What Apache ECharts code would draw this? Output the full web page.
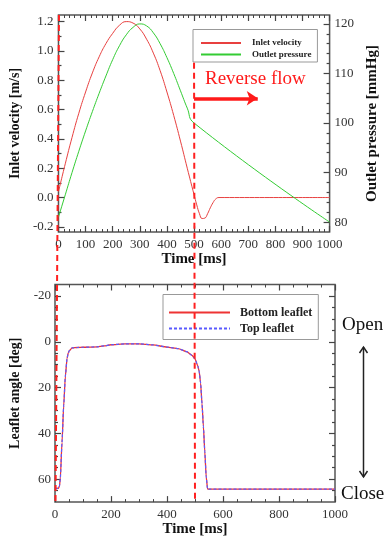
<!DOCTYPE html>
<html>
<head>
<meta charset="utf-8">
<script src="https://cdn.jsdelivr.net/npm/echarts@6/dist/echarts.min.js"></script>
<style>
  html, body { margin: 0; padding: 0; background: #fff; }
  #chart { width: 388px; height: 538px; }
</style>
</head>
<body>
<div id="chart"></div>
<script>
// inlet velocity [m/s] over time [ms]
const velTime = [0, 25, 50, 75, 100, 125, 150, 175, 200, 225, 250, 275, 300, 325, 350, 375, 400, 425, 450, 475, 500, 510, 520, 530, 540, 550, 560, 570, 580, 592, 1000];
const velValues = [0.04, 0.23, 0.41, 0.575, 0.72, 0.85, 0.96, 1.05, 1.12, 1.175, 1.2, 1.19, 1.15, 1.08, 0.985, 0.865, 0.72, 0.56, 0.385, 0.2, 0.02, -0.05, -0.11, -0.143, -0.14, -0.11, -0.07, -0.035, -0.01, 0, 0];

// outlet pressure [mmHg]
const presTime = [0, 25, 50, 75, 100, 125, 150, 175, 200, 225, 250, 275, 300, 325, 350, 375, 400, 425, 450, 475, 500, 1000];
const presValues = [81, 85.5, 90, 94.3, 98.4, 102.3, 106, 109.5, 112.8, 115.6, 117.8, 119.3, 120, 119.6, 118.2, 116, 113.2, 110, 106.5, 103, 100, 80];

// leaflet angle [deg]
const angleTime = [0, 12, 16, 19, 25, 31, 37, 43, 47, 51, 61, 80, 100, 150, 175, 200, 250, 300, 350, 400, 440, 470, 490, 500, 510, 515, 520, 525, 530, 535, 540, 545, 1000];
const bottomAngle = [64, 64, 63, 59.6, 44, 28, 15, 7.4, 5, 3.9, 2.7, 2.5, 2.4, 2.2, 1.8, 1.3, 0.9, 0.9, 1.4, 2.3, 3.0, 4.3, 6.0, 7.5, 10.5, 13, 18, 27, 37, 48, 59, 64.3, 64.3];
const topAngle = [64, 64, 63, 59.6, 44, 28, 15, 7.4, 5, 3.9, 2.7, 2.5, 2.4, 2.2, 1.8, 1.3, 0.9, 0.9, 1.4, 2.3, 3.0, 4.3, 6.0, 7.5, 10.5, 13, 18, 27, 37, 48, 59, 64.3, 64.3];

// tick values
const velTicks = [-0.2, 0, 0.2, 0.4, 0.6, 0.8, 1.0, 1.2];
const velMinor = [-0.1, 0.1, 0.3, 0.5, 0.7, 0.9, 1.1];
const presTicks = [80, 90, 100, 110, 120];
const presMinor = [82, 84, 86, 88, 92, 94, 96, 98, 102, 104, 106, 108, 112, 114, 116, 118];
const angleTicks = [-20, 0, 20, 40, 60];
const angleMinor = [-15, -10, -5, 5, 10, 15, 25, 30, 35, 45, 50, 55, 65];

const FONT = 'Liberation Serif';
const TICK = '#444';

function zip(xs, ys) {
  return xs.map((x, i) => [x, ys[i]]);
}

// y axis that only draws custom ticks (and labels if asked)
function yTicks(gridIndex, position, min, max, values, len, labelOpt, extra) {
  return Object.assign({
    type: 'value',
    gridIndex,
    position,
    min,
    max,
    axisLine: { show: false, onZero: false },
    splitLine: { show: false },
    axisTick: { show: true, inside: true, length: len, customValues: values, lineStyle: { color: TICK, width: 1.2 } },
    axisLabel: labelOpt
      ? Object.assign({ show: true, customValues: values, fontFamily: FONT, fontSize: 13, color: '#333', margin: 5 }, labelOpt)
      : { show: false }
  }, extra || {});
}

function xTicks(gridIndex, position, interval, split, showLabel, extra) {
  return Object.assign({
    type: 'value',
    gridIndex,
    position,
    min: 0,
    max: 1000,
    interval,
    axisLine: { show: false, onZero: false },
    splitLine: { show: false },
    axisTick: { show: true, inside: true, length: 6, lineStyle: { color: TICK, width: 1.2 } },
    minorTick: { show: true, splitNumber: split, length: 3, lineStyle: { color: TICK, width: 1 } },
    axisLabel: { show: showLabel, fontFamily: FONT, fontSize: 13, color: '#333', margin: 6, formatter: v => String(v) }
  }, extra || {});
}

const nameStyle = { fontFamily: FONT, fontSize: 14, fontWeight: 'bold', color: '#111' };

const chart = echarts.init(document.getElementById('chart'));

chart.setOption({
  animation: false,
  backgroundColor: '#fff',
  grid: [
    { left: 55, top: 15, width: 280, height: 217, show: true, borderColor: '#555', borderWidth: 1.5 },
    { left: 55, top: 284.5, width: 280, height: 222, show: true, borderColor: '#555', borderWidth: 1.5 }
  ],
  xAxis: [
    xTicks(0, 'bottom', 100, 5, true, {
      name: 'Time [ms]', nameLocation: 'middle', nameGap: 20,
      nameTextStyle: Object.assign({}, nameStyle, { fontSize: 15 })
    }),
    xTicks(0, 'top', 100, 5, false),
    xTicks(1, 'bottom', 200, 4, true, {
      name: 'Time [ms]', nameLocation: 'middle', nameGap: 18,
      nameTextStyle: Object.assign({}, nameStyle, { fontSize: 15 })
    }),
    xTicks(1, 'top', 200, 4, false)
  ],
  yAxis: [
    yTicks(0, 'left', -0.235, 1.245, velTicks, 6, { formatter: v => v.toFixed(1) }, {
      name: 'Inlet velocity [m/s]', nameLocation: 'middle', nameGap: 28, nameRotate: 90,
      nameTextStyle: nameStyle
    }),
    yTicks(0, 'left', -0.235, 1.245, velMinor, 3),
    yTicks(0, 'right', 78, 121.8, presTicks, 6, {}, {
      name: 'Outlet pressure [mmHg]', nameLocation: 'middle', nameGap: 31, nameRotate: 90,
      nameTextStyle: Object.assign({}, nameStyle, { fontSize: 15 })
    }),
    yTicks(0, 'right', 78, 121.8, presMinor, 3),
    yTicks(1, 'left', -25, 70, angleTicks, 6, { margin: 4 }, {
      inverse: true,
      name: 'Leaflet angle [deg]', nameLocation: 'middle', nameGap: 27, nameRotate: 90,
      nameTextStyle: nameStyle
    }),
    yTicks(1, 'left', -25, 70, angleMinor, 3, null, { inverse: true }),
    yTicks(1, 'right', -25, 70, angleTicks, 6, null, { inverse: true }),
    yTicks(1, 'right', -25, 70, angleMinor, 3, null, { inverse: true })
  ],
  legend: [
    {
      data: ['Inlet velocity', 'Outlet pressure'],
      orient: 'vertical',
      left: 193,
      top: 29.5,
      padding: [9, 6, 3, 7],
      itemWidth: 40,
      itemHeight: 10,
      itemGap: 2.5,
      borderColor: '#999',
      borderWidth: 1,
      backgroundColor: '#fff',
      itemStyle: { opacity: 0 },
      textStyle: { fontFamily: FONT, fontWeight: 'bold', fontSize: 9, color: '#222', padding: [0, 0, 0, 6] }
    },
    {
      data: ['Bottom leaflet', 'Top leaflet'],
      orient: 'vertical',
      left: 163,
      top: 294.5,
      padding: [12, 6, 5, 5],
      itemWidth: 61,
      itemHeight: 12,
      itemGap: 4,
      borderColor: '#999',
      borderWidth: 1,
      backgroundColor: '#fff',
      itemStyle: { opacity: 0 },
      textStyle: { fontFamily: FONT, fontWeight: 'bold', fontSize: 12, color: '#222', padding: [0, 0, 0, 5] }
    }
  ],
  series: [
    {
      name: 'Inlet velocity',
      type: 'line',
      xAxisIndex: 0,
      yAxisIndex: 0,
      data: zip(velTime, velValues),
      symbol: 'none',
      smooth: 0.5,
      color: '#e8403f',
      lineStyle: { color: '#e8403f', width: 1 },
      markLine: {
        silent: true,
        symbol: ['none', 'arrow'],
        symbolSize: [11, 11],
        label: { show: false },
        lineStyle: { color: '#ff1a1a', width: 3.5, type: 'solid' },
        data: [[{ coord: [500, 0.677] }, { coord: [735, 0.677] }]]
      }
    },
    {
      name: 'Outlet pressure',
      type: 'line',
      xAxisIndex: 0,
      yAxisIndex: 2,
      data: zip(presTime, presValues),
      symbol: 'none',
      smooth: 0.5,
      color: '#33cc33',
      lineStyle: { color: '#33cc33', width: 1 }
    },
    {
      name: 'Bottom leaflet',
      type: 'line',
      xAxisIndex: 2,
      yAxisIndex: 4,
      data: zip(angleTime, bottomAngle),
      symbol: 'none',
      smooth: 0.2,
      smoothMonotone: 'x',
      color: '#ee3333',
      lineStyle: { color: '#ee3333', width: 1.3 }
    },
    {
      name: 'Top leaflet',
      type: 'line',
      xAxisIndex: 2,
      yAxisIndex: 4,
      data: zip(angleTime, topAngle),
      symbol: 'none',
      smooth: 0.2,
      smoothMonotone: 'x',
      color: '#5a5aff',
      z: 3,
      lineStyle: { color: '#5a5aff', width: 1.2, type: [3, 2] }
    }
  ]
});

// dashed marker lines at t = 0 and t = 500, spanning both panels
const a0 = chart.convertToPixel({ seriesIndex: 0 }, [0, 1.245]);
const b0 = chart.convertToPixel({ seriesIndex: 2 }, [0, 70]);
const a5 = chart.convertToPixel({ seriesIndex: 0 }, [500, 0.92]);
const b5 = chart.convertToPixel({ seriesIndex: 2 }, [500, 70]);
const dash = { stroke: '#ff2020', lineWidth: 2, lineDash: [6, 4] };

chart.setOption({
  graphic: [
    { type: 'line', z: 100, shape: { x1: a0[0] + 0.5, y1: a0[1], x2: b0[0] + 0.5, y2: b0[1] }, style: dash },
    { type: 'line', z: 100, shape: { x1: a5[0], y1: a5[1], x2: b5[0], y2: b5[1] }, style: dash },
    {
      type: 'text', left: 205, top: 70, z: 100,
      style: { text: 'Reverse flow', fill: '#ff1a1a', font: '19px "Liberation Serif"' }
    },
    {
      type: 'text', left: 342, top: 316, z: 100,
      style: { text: 'Open', fill: '#111', font: '19px "Liberation Serif"' }
    },
    {
      type: 'text', left: 341, top: 485, z: 100,
      style: { text: 'Close', fill: '#111', font: '19px "Liberation Serif"' }
    },
    { type: 'line', z: 100, shape: { x1: 363.5, y1: 347, x2: 363.5, y2: 477 }, style: { stroke: '#222', lineWidth: 1.5 } },
    { type: 'polyline', z: 100, shape: { points: [[359.5, 353], [363.5, 347], [367.5, 353]] }, style: { stroke: '#222', lineWidth: 1.5, fill: null } },
    { type: 'polyline', z: 100, shape: { points: [[359.5, 471], [363.5, 477], [367.5, 471]] }, style: { stroke: '#222', lineWidth: 1.5, fill: null } }
  ]
});
</script>
</body>
</html>
